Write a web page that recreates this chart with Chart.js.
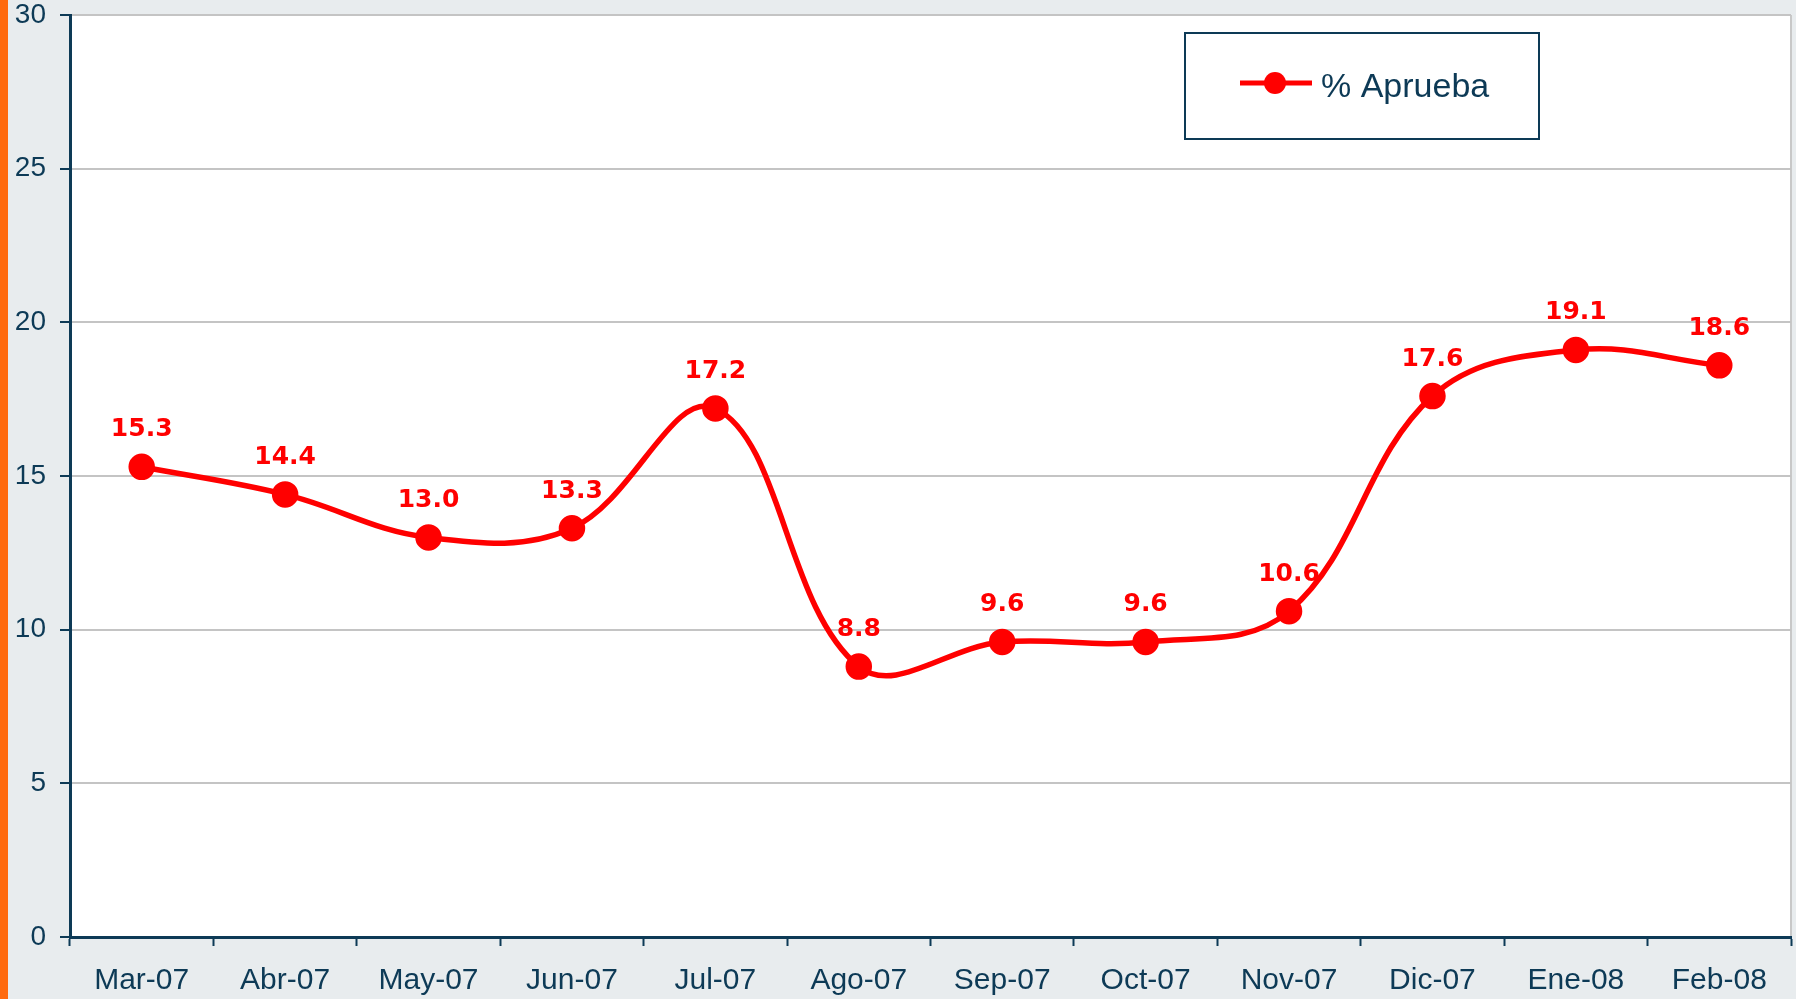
<!DOCTYPE html>
<html>
<head>
    <title>% Aprueba</title>
    <script src="https://cdn.jsdelivr.net/npm/chart.js"></script>
    <style>
        body { margin: 0; background: #e8ecee; overflow: hidden; }
        canvas { display: block; }
    </style>
</head>
<body>
    <canvas id="lineChart" width="1796" height="999"></canvas>
    <script>
        // Data
        const categories = ['Mar-07', 'Abr-07', 'May-07', 'Jun-07', 'Jul-07', 'Ago-07',
                            'Sep-07', 'Oct-07', 'Nov-07', 'Dic-07', 'Ene-08', 'Feb-08'];
        const apruebaValues = [15.3, 14.4, 13.0, 13.3, 17.2, 8.8, 9.6, 9.6, 10.6, 17.6, 19.1, 18.6];
        const seriesName = '% Aprueba';
        const yMin = 0, yMax = 30, yStep = 5;

        const axisColor = '#0d3a56';
        const lineColor = '#ff0000';

        // gray page, orange strip on the left, white plot area
        const backgroundPlugin = {
            id: 'background',
            beforeDraw(chart) {
                const { ctx, chartArea: a } = chart;
                ctx.save();
                ctx.fillStyle = '#e8ecee';
                ctx.fillRect(0, 0, chart.width, chart.height);
                ctx.fillStyle = '#ff6a0e';
                ctx.fillRect(0, 0, 8, chart.height);
                ctx.fillStyle = '#ffffff';
                ctx.fillRect(a.left, a.top, a.right - a.left, a.bottom - a.top);
                ctx.strokeStyle = '#c8c8c8';
                ctx.lineWidth = 2;
                ctx.beginPath();
                ctx.moveTo(a.right, a.top);
                ctx.lineTo(a.right, a.bottom);
                ctx.stroke();
                ctx.restore();
            }
        };

        // value labels above each point
        const valueLabelPlugin = {
            id: 'valueLabels',
            beforeDatasetsDraw(chart) {
                const { ctx } = chart;
                ctx.save();
                ctx.font = 'bold 25px "DejaVu Sans"';
                ctx.fillStyle = lineColor;
                ctx.textAlign = 'center';
                ctx.textBaseline = 'middle';
                chart.getDatasetMeta(0).data.forEach((pt, i) => {
                    ctx.fillText(chart.data.datasets[0].data[i].toFixed(1), pt.x, pt.y - 37);
                });
                ctx.restore();
            }
        };

        // boxed legend inside the plot area
        const boxLegendPlugin = {
            id: 'boxLegend',
            afterDraw(chart) {
                const { ctx } = chart;
                const ds = chart.data.datasets[0];
                ctx.save();
                ctx.fillStyle = '#ffffff';
                ctx.fillRect(1185, 33, 354, 106);
                ctx.strokeStyle = axisColor;
                ctx.lineWidth = 2;
                ctx.strokeRect(1185, 33, 354, 106);
                ctx.strokeStyle = ds.borderColor;
                ctx.lineWidth = 5;
                ctx.beginPath();
                ctx.moveTo(1240, 83);
                ctx.lineTo(1312, 83);
                ctx.stroke();
                ctx.fillStyle = ds.pointBackgroundColor;
                ctx.beginPath();
                ctx.arc(1275, 83, 11, 0, Math.PI * 2);
                ctx.fill();
                ctx.fillStyle = axisColor;
                ctx.font = '34px "Liberation Sans"';
                ctx.textBaseline = 'alphabetic';
                ctx.fillText(ds.label, 1321, 97);
                ctx.restore();
            }
        };

        function noScalePadding(scale) {
            scale.paddingTop = 0;
            scale.paddingBottom = 0;
            scale.paddingLeft = 0;
            scale.paddingRight = 0;
        }

        const ctx = document.getElementById('lineChart').getContext('2d');
        const chart = new Chart(ctx, {
            type: 'line',
            data: {
                labels: categories,
                datasets: [{
                    label: seriesName,
                    data: apruebaValues,
                    borderColor: lineColor,
                    backgroundColor: lineColor,
                    pointBackgroundColor: lineColor,
                    pointBorderColor: lineColor,
                    pointRadius: 10.5,
                    pointHoverRadius: 10.5,
                    borderWidth: 5.5,
                    tension: 0.38,
                    fill: false
                }]
            },
            options: {
                responsive: false,
                devicePixelRatio: 1,
                animation: false,
                layout: {
                    autoPadding: false,
                    padding: { top: 15, right: 5, left: 0, bottom: 0 }
                },
                plugins: {
                    legend: { display: false },
                    tooltip: { enabled: false }
                },
                scales: {
                    x: {
                        offset: true,
                        grid: {
                            offset: true,
                            drawOnChartArea: false,
                            drawTicks: true,
                            tickLength: 9,
                            tickWidth: 2,
                            tickColor: axisColor
                        },
                        border: { color: axisColor, width: 3 },
                        ticks: {
                            color: axisColor,
                            font: { family: 'Liberation Sans', size: 30 },
                            padding: 17,
                            maxRotation: 0,
                            autoSkip: false
                        },
                        afterFit(scale) { scale.height = 62; noScalePadding(scale); }
                    },
                    y: {
                        min: yMin,
                        max: yMax,
                        grid: {
                            color: '#c4c4c4',
                            lineWidth: 2,
                            tickLength: 10,
                            tickWidth: 2,
                            tickColor: axisColor
                        },
                        border: { color: axisColor, width: 3 },
                        ticks: {
                            stepSize: yStep,
                            color: axisColor,
                            font: { family: 'Liberation Sans', size: 28 },
                            padding: 14
                        },
                        afterFit(scale) { scale.width = 70; noScalePadding(scale); }
                    }
                }
            },
            plugins: [backgroundPlugin, valueLabelPlugin, boxLegendPlugin]
        });
    </script>
</body>
</html>
